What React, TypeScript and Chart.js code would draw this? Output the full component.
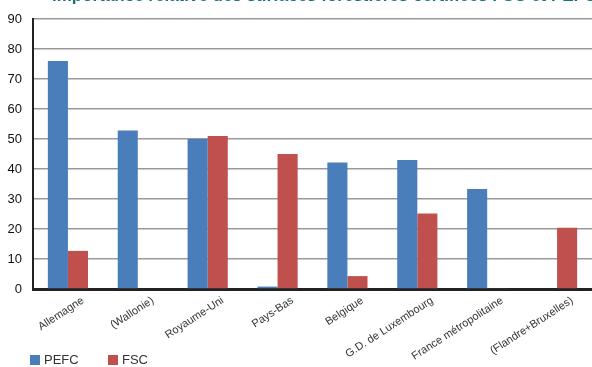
import React, { useEffect, useRef } from "react";
import { Chart, registerables } from "chart.js";

Chart.register(...registerables);

const TITLE = "Importance relative des surfaces forestières certifiées FSC et PEFC";
const categories = [
  "Allemagne",
  "(Wallonie)",
  "Royaume-Uni",
  "Pays-Bas",
  "Belgique",
  "G.D. de Luxembourg",
  "France métropolitaine",
  "(Flandre+Bruxelles)",
];
const pefcValues = [76, 52.8, 50, 0.8, 42.2, 43, 33.3, 0];
const fscValues = [12.7, 0, 51, 45, 4.3, 25.2, 0.3, 20.4];
const yTicks = [0, 10, 20, 30, 40, 50, 60, 70, 80, 90];

const PEFC_COLOR = "#4a7ebb";
const FSC_COLOR = "#c0504d";
const FONT = "'Liberation Sans', Arial, Helvetica, sans-serif";

export default function App() {
  const ref = useRef<HTMLCanvasElement | null>(null);

  useEffect(() => {
    if (!ref.current) return;
    const chart = new Chart(ref.current, {
      type: "bar",
      data: {
        labels: categories,
        datasets: [
          { label: "PEFC", data: pefcValues, backgroundColor: PEFC_COLOR },
          { label: "FSC", data: fscValues, backgroundColor: FSC_COLOR },
        ],
      },
      options: {
        animation: false,
        responsive: false,
        maintainAspectRatio: false,
        layout: { padding: { top: 19, right: 0, bottom: 0, left: 0 } },
        datasets: {
          bar: { categoryPercentage: 0.575, barPercentage: 1 },
        },
        plugins: {
          legend: { display: false },
          title: { display: false },
          tooltip: { enabled: false },
        },
        scales: {
          x: {
            grid: { display: false, drawTicks: false },
            border: { display: true, color: "#222", width: 3 },
            ticks: {
              autoSkip: false,
              maxRotation: 33,
              minRotation: 33,
              padding: 5,
              labelOffset: 15,
              color: "#333",
              font: { family: FONT, size: 11 },
            },
            afterFit: (scale: any) => {
              scale.height = 78;
            },
          },
          y: {
            min: 0,
            max: 90,
            afterBuildTicks: (scale: any) => {
              scale.ticks = yTicks.map((v) => ({ value: v }));
            },
            grid: { color: "#999", lineWidth: 1.5, drawTicks: false },
            border: { display: true, color: "#222", width: 2 },
            ticks: {
              padding: 11,
              color: "#111",
              font: { family: FONT, size: 13 },
            },
            afterFit: (scale: any) => {
              scale.width = 33;
            },
          },
        },
      },
    });
    return () => chart.destroy();
  }, []);

  const legendItem = (color: string, text: string, left: number) => (
    <div
      style={{
        position: "absolute",
        left,
        top: 352,
        display: "flex",
        alignItems: "center",
        fontFamily: FONT,
        fontSize: 13,
        color: "#333",
      }}
    >
      <span
        style={{
          display: "inline-block",
          width: 10,
          height: 10,
          background: color,
          marginRight: 4,
        }}
      />
      <span>{text}</span>
    </div>
  );

  return (
    <div
      style={{
        position: "fixed",
        left: 0,
        top: 0,
        width: 592,
        height: 367,
        overflow: "hidden",
        background: "#fff",
      }}
    >
      <canvas
        ref={ref}
        width={592}
        height={367}
        style={{ position: "absolute", left: 0, top: 0, width: 592, height: 367 }}
      />
      <div
        style={{
          position: "absolute",
          left: 52,
          top: -14,
          whiteSpace: "nowrap",
          fontFamily: FONT,
          fontWeight: "bold",
          fontSize: 17,
          color: "#17707c",
        }}
      >
        {TITLE}
      </div>
      {legendItem(PEFC_COLOR, "PEFC", 30)}
      {legendItem(FSC_COLOR, "FSC", 108)}
    </div>
  );
}
